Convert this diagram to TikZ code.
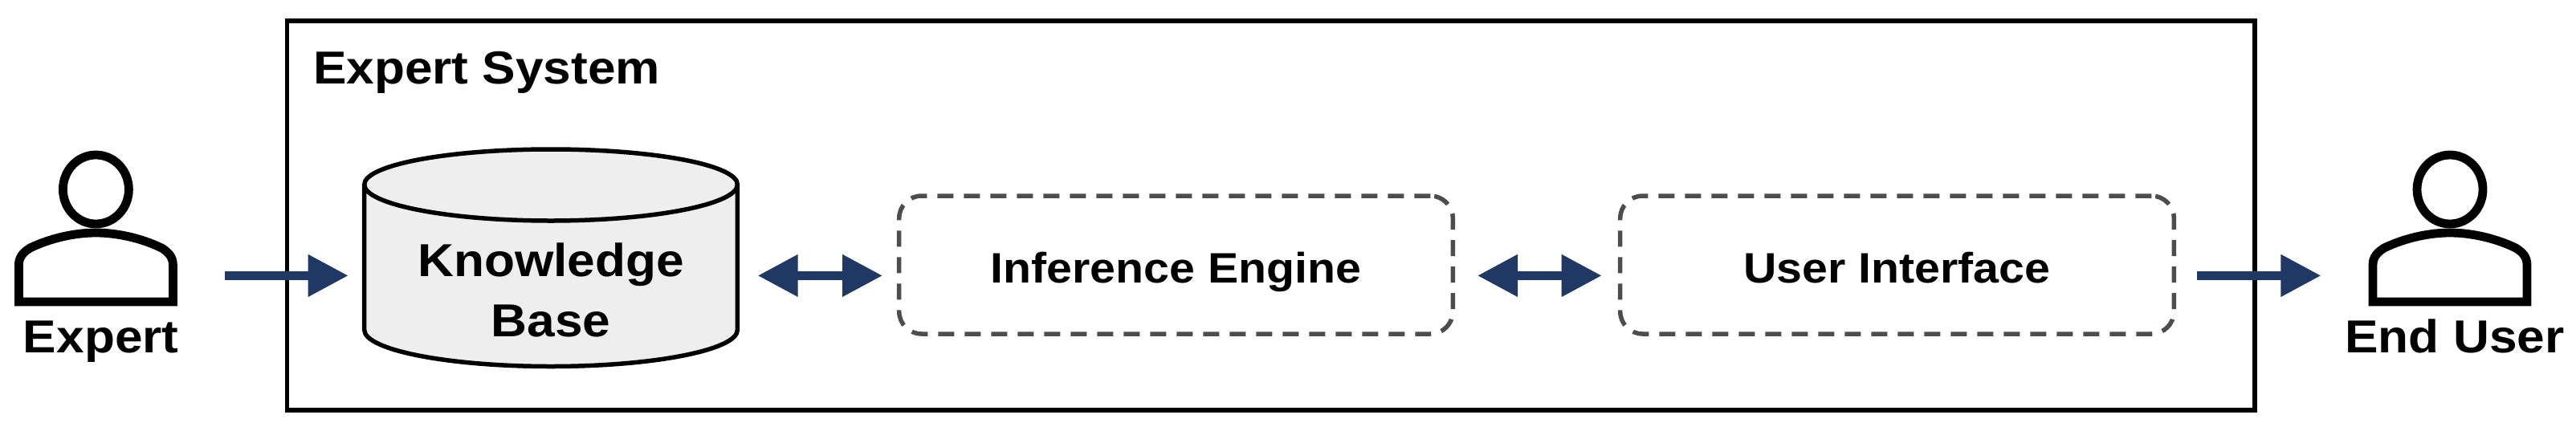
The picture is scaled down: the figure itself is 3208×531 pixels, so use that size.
\documentclass[tikz,border=0pt]{standalone}
\usepackage{fontspec}
\setmainfont{Liberation Sans}[FakeStretch=1.08]
\usetikzlibrary{arrows.meta}
\definecolor{navy}{HTML}{1F3864}
\definecolor{dashgrey}{HTML}{4D4D4D}
\definecolor{cylfill}{HTML}{EEEEEE}
\tikzset{
  x=1pt,y=-1pt,
  label text/.style={font=\fontsize{57.6}{75}\selectfont\bfseries,text=black,inner sep=0pt,outer sep=0pt,align=center},
  person/.style={line width=10.8pt,draw=black,fill=white},
  frame/.style={draw=black,line width=5.2pt,fill=white,outer sep=0pt,inner sep=0pt},
  cyl/.style={draw=black,line width=5.5pt},
  procbox/.style={draw=dashgrey,line width=5.5pt,dash pattern=on 20pt off 13pt,rounded corners=28pt,inner sep=0pt,outer sep=0pt,
     minimum width=689.6pt,minimum height=172pt,text height=45.4pt,text depth=0pt,
     font=\fontsize{53}{64}\selectfont\bfseries},
  oneway/.style={draw=navy,line width=10.7pt,-{Triangle[length=50pt,width=50pt,fill=navy]}},
  twoway/.style={draw=navy,line width=10.7pt,{Triangle[length=50pt,width=50pt,fill=navy]}-{Triangle[length=50pt,width=50pt,fill=navy]}},
  hold/.style={minimum width=#1,text width=#1},
}
\newcommand{\personicon}[1]{%
  \draw[person] (#1,236) ellipse (41 and 43);
  \draw[person,line join=miter] ({#1-96},376) -- ({#1-96},330)
     .. controls ({#1-96},320) and ({#1-90},314) .. ({#1-82},309)
     .. controls ({#1-55},296) and ({#1-25},290) .. (#1,290)
     .. controls ({#1+25},290) and ({#1+55},296) .. ({#1+82},309)
     .. controls ({#1+90},314) and ({#1+96},320) .. ({#1+96},330)
     -- ({#1+96},376) -- cycle;
}
\begin{document}
\begin{tikzpicture}
\useasboundingbox (0,0) rectangle (3208,531);
\fill[white] (0,0) rectangle (3208,531);
\node[frame,minimum width=2450.5pt,minimum height=485pt,anchor=north west] (sys) at (357.5,26) {};
\node[label text,anchor=base west] (systitle) at (390,104.3) {Expert System};
% people
\personicon{119.4}
\personicon{3051}
\node[label text,anchor=base] (expert) at (125.8,439.3) {Expert};
\node[label text,anchor=base] (enduser) at (3057,439.3) {End User};
% knowledge base
\draw[cyl,fill=cylfill] (453.7,230) -- (453.7,411)
   .. controls (453.7,436) and (558,456.5) .. (686,456.5)
   .. controls (814,456.5) and (918.4,436) .. (918.4,411) -- (918.4,230)
   .. controls (918.4,205.5) and (814,186) .. (686,186)
   .. controls (558,186) and (453.7,205.5) .. (453.7,230) -- cycle;
\draw[cyl] (453.7,230)
   .. controls (453.7,254.5) and (558,275) .. (686,275)
   .. controls (814,275) and (918.4,254.5) .. (918.4,230);
\node[label text,hold=464.7pt] (kb) at (686.05,361) {Knowledge\\Base};
% components
\node[procbox,anchor=north west] (ie) at (1119.7,244) {Inference Engine};
\node[procbox,anchor=north west] (ui) at (2017.7,244) {User Interface};
% connectors
\coordinate (rowline) at (0,343.4);
\coordinate (expout) at (280,343.4);
\coordinate (uiout) at (2735.6,343.4);
\coordinate (usrin) at (2890.4,343.4);
\draw[oneway,shorten >=20pt] (expout) -- (kb.west |- rowline);
\draw[twoway,shorten <=25.3pt,shorten >=20.7pt] (kb.east |- rowline) -- (ie.west |- rowline);
\draw[twoway,shorten <=30.7pt,shorten >=23pt] (ie.east |- rowline) -- (ui.west |- rowline);
\draw[oneway] (uiout) -- (usrin);
\end{tikzpicture}
\end{document}
